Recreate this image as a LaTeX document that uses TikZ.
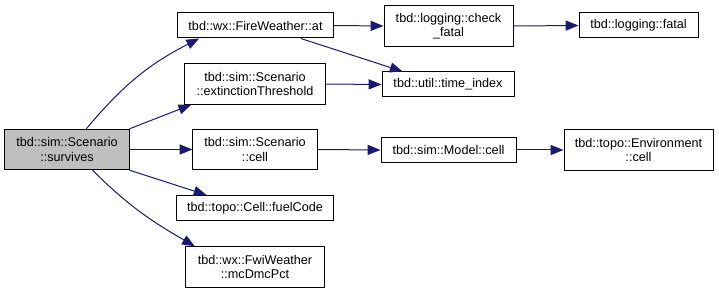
\documentclass[tikz,border=0pt]{standalone}
\usepackage{fontspec}
\setmainfont{Liberation Sans}
\usetikzlibrary{arrows.meta}
\definecolor{edgeblue}{RGB}{25,25,112}
\tikzset{
	fnbox/.style = {draw = black, line width = 0.25mm, align = center, inner sep = 0pt,
		font = \fontsize{9}{10}\selectfont, minimum height = 6.25mm},
	twoline/.style = {minimum height = 10.1mm},
	calls/.style = {draw = edgeblue, line width = 0.25mm, -{Triangle[length = 3.2mm, width = 2.5mm]}}
}
\begin{document}
\begin{tikzpicture}[x = 0.25mm, y = -0.25mm]
	\useasboundingbox (0, 0) rectangle (719, 293);
	% caller
	\node[fnbox, twoline, fill = black!25, minimum width = 31mm] (survives) at (67, 149.5) {tbd::sim::Scenario\\::survives};
	% called directly
	\node[fnbox, minimum width = 38.75mm] (fw) at (255.5, 25.5) {tbd::wx::FireWeather::at};
	\node[fnbox, twoline, minimum width = 35mm] (ext) at (255, 84) {tbd::sim::Scenario\\::extinctionThreshold};
	\node[fnbox, twoline, minimum width = 31mm] (scell) at (255, 149.5) {tbd::sim::Scenario\\::cell};
	\node[fnbox, minimum width = 39mm] (fc) at (255, 208) {tbd::topo::Cell::fuelCode};
	\node[fnbox, twoline, minimum width = 34.5mm] (mc) at (255, 267) {tbd::wx::FwiWeather\\::mcDmcPct};
	% second level
	\node[fnbox, twoline, minimum width = 32.25mm] (cf) at (448.5, 26) {tbd::logging::check\\\_fatal};
	\node[fnbox, minimum width = 33mm] (ti) at (448, 84.5) {tbd::util::time\_index};
	\node[fnbox, minimum width = 33.75mm] (mcell) at (448.5, 150) {tbd::sim::Model::cell};
	% third level
	\node[fnbox, minimum width = 29.75mm] (fatal) at (638.5, 25.5) {tbd::logging::fatal};
	\node[fnbox, twoline, minimum width = 37.25mm] (env) at (638.5, 150) {tbd::topo::Environment\\::cell};

	\draw[calls] (survives.47) to[out = 50, in = 207] (fw.193);
	\draw[calls] (survives.north east) -- (ext.198);
	\draw[calls] (survives.east) -- (scell.west);
	\draw[calls] (survives.south east) -- (fc.165);
	\draw[calls] (survives.-39) to[out = -45, in = 150] (mc.161);
	\draw[calls] (fw.east) -- (cf.west);
	\draw[calls] (fw.-16) -- (ti.164);
	\draw[calls] (ext.east) -- (ti.west);
	\draw[calls] (cf.east) -- (fatal.west);
	\draw[calls] (scell.east) -- (mcell.west);
	\draw[calls] (mcell.east) -- (env.west);
\end{tikzpicture}
\end{document}
